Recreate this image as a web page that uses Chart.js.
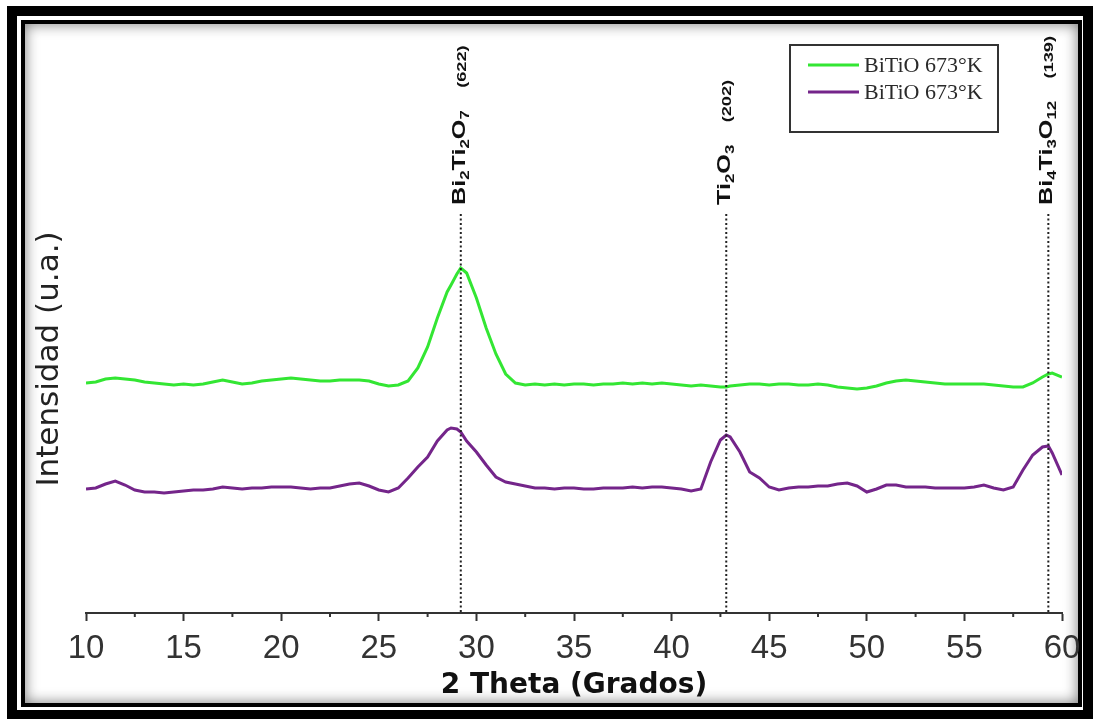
<!DOCTYPE html>
<html>
<head>
<meta charset="utf-8">
<title>BiTiO DRX</title>
<script src="https://cdn.jsdelivr.net/npm/chart.js@4.4.1/dist/chart.umd.min.js"></script>
<style>
  html, body { margin: 0; padding: 0; background: #fff; }
  canvas { display: block; }
</style>
</head>
<body>
<canvas id="drx" width="1094" height="719"></canvas>
<script>
// 2θ positions (degrees)
const twoTheta = [10,10.5,11,11.5,12,12.5,13,13.5,14,14.5,15,15.5,16,16.5,17,17.5,18,18.5,19,19.5,
  20,20.5,21,21.5,22,22.5,23,23.5,24,24.5,25,25.5,26,26.5,27,27.5,28,28.5,28.7,29,29.2,29.5,
  30,30.5,31,31.5,32,32.5,33,33.5,34,34.5,35,35.5,36,36.5,37,37.5,38,38.5,39,39.5,
  40,40.5,41,41.5,42,42.5,42.8,43,43.5,44,44.5,45,45.5,46,46.5,47,47.5,48,48.5,49,49.5,
  50,50.5,51,51.5,52,52.5,53,53.5,54,54.5,55,55.5,56,56.5,57,57.5,58,58.5,59,59.3,59.5,60];

// Intensity (a.u.), upper pattern
const intensityGreen = [230,231,234,235,234,233,231,230,229,228,229,228,229,231,233,231,229,230,232,233,
  234,235,234,233,232,232,233,233,233,232,229,227,228,232,245,266,295,321,328,339,345,340,
  315,285,259,239,230,228,229,228,229,228,229,229,228,229,229,230,229,230,229,230,
  229,228,227,228,227,226,226,227,228,229,229,228,229,229,228,228,229,228,226,225,224,
  225,227,230,232,233,232,231,230,229,229,229,229,229,228,227,226,226,230,236,239,240,236];

// Intensity (a.u.), lower pattern
const intensityPurple = [124,125,129,132,128,123,121,121,120,121,122,123,123,124,126,125,124,125,125,126,
  126,126,125,124,125,125,127,129,130,127,123,121,125,135,146,156,172,183,185,184,181,172,
  161,148,136,131,129,127,125,125,124,125,125,124,124,125,125,125,126,125,126,126,
  125,124,122,124,151,173,178,176,161,141,135,126,123,125,126,126,127,127,129,130,127,
  121,124,128,128,126,126,126,125,125,125,125,126,128,125,123,126,143,158,166,167,160,138];

const seriesLabels = ['BiTiO 673°K', 'BiTiO 673°K'];

// Indexed reflections
const peakAngles = [29.2, 42.8, 59.3];
const peakPhases = ['Bi_2Ti_2O_7', 'Ti_2O_3', 'Bi_4Ti_3O_12'];
const peakPlanes = ['(622)', '(202)', '(139)'];

const xTicks = [10, 15, 20, 25, 30, 35, 40, 45, 50, 55, 60];

const toPoints = ys => twoTheta.map((t, i) => ({ x: t, y: ys[i] }));

// Double black frame with a soft inner shadow
const framePlugin = {
  id: 'frame',
  beforeDraw(chart) {
    const ctx = chart.ctx;
    const W = chart.width, H = chart.height;
    ctx.save();
    ctx.fillStyle = '#fff';
    ctx.fillRect(0, 0, W, H);
    // inner shadow
    ctx.save();
    ctx.beginPath();
    ctx.rect(25, 24, 1053, 679);
    ctx.clip();
    ctx.shadowColor = 'rgba(0,0,0,0.55)';
    ctx.shadowBlur = 14;
    ctx.strokeStyle = '#000';
    ctx.lineWidth = 12;
    ctx.strokeRect(19, 18, 1065, 691);
    ctx.restore();
    ctx.strokeStyle = '#000';
    ctx.lineWidth = 10;
    ctx.strokeRect(12, 11, 1076, 704);
    ctx.lineWidth = 4;
    ctx.strokeRect(23, 22, 1057, 683);
    ctx.restore();
  }
};

// Minor ticks between the labelled ones
const minorTicksPlugin = {
  id: 'minorTicks',
  afterDraw(chart) {
    const x = chart.scales.x, ctx = chart.ctx;
    const y0 = chart.chartArea.bottom;
    ctx.save();
    ctx.strokeStyle = '#333';
    ctx.lineWidth = 2;
    for (let i = 0; i < xTicks.length - 1; i++) {
      const px = x.getPixelForValue((xTicks[i] + xTicks[i + 1]) / 2);
      ctx.beginPath();
      ctx.moveTo(px, y0);
      ctx.lineTo(px, y0 + 4);
      ctx.stroke();
    }
    ctx.restore();
  }
};

// Dotted markers with rotated phase / plane labels
function drawFormula(ctx, text, x0) {
  const parts = text.split(/_(\d+)/);
  let x = x0;
  parts.forEach((p, i) => {
    if (!p) return;
    if (i % 2 === 1) {
      ctx.font = 'bold 12px "Liberation Sans", Arial, sans-serif';
      ctx.fillText(p, x, 4);
    } else {
      ctx.font = 'bold 18px "Liberation Sans", Arial, sans-serif';
      ctx.fillText(p, x, 0);
    }
    x += ctx.measureText(p).width;
  });
  return x;
}

const peakPlugin = {
  id: 'peaks',
  afterDatasetsDraw(chart) {
    const ctx = chart.ctx;
    const xs = chart.scales.x;
    const yBottom = chart.chartArea.bottom;
    ctx.save();
    peakAngles.forEach((ang, i) => {
      const px = xs.getPixelForValue(ang);
      ctx.save();
      ctx.strokeStyle = '#222';
      ctx.lineWidth = 2;
      ctx.setLineDash([2, 2.5]);
      ctx.beginPath();
      ctx.moveTo(px, 214);
      ctx.lineTo(px, yBottom);
      ctx.stroke();
      ctx.restore();

      ctx.save();
      ctx.translate(px + 4, 205);
      ctx.rotate(-Math.PI / 2);
      ctx.scale(1.4, 1);
      ctx.fillStyle = '#111';
      ctx.textBaseline = 'alphabetic';
      ctx.textAlign = 'left';
      const end = drawFormula(ctx, peakPhases[i], 0);
      ctx.font = 'bold 13px "Liberation Sans", Arial, sans-serif';
      ctx.fillText(peakPlanes[i], end + 16, 1);
      ctx.restore();
    });
    ctx.restore();
  }
};

// Boxed legend in the upper right corner
const boxLegendPlugin = {
  id: 'boxLegend',
  afterDraw(chart) {
    const ctx = chart.ctx;
    ctx.save();
    ctx.strokeStyle = '#333';
    ctx.lineWidth = 2;
    ctx.strokeRect(790, 45, 208, 87);
    chart.data.datasets.forEach((ds, i) => {
      const y = 65 + i * 27;
      ctx.strokeStyle = ds.borderColor;
      ctx.lineWidth = 3;
      ctx.beginPath();
      ctx.moveTo(808, y);
      ctx.lineTo(859, y);
      ctx.stroke();
      ctx.fillStyle = '#2a2a2a';
      ctx.font = '22px "Liberation Serif", "Times New Roman", serif';
      ctx.textBaseline = 'middle';
      ctx.fillText(ds.label, 864, y + 1);
    });
    ctx.restore();
  }
};

new Chart(document.getElementById('drx'), {
  type: 'line',
  data: {
    datasets: [
      {
        label: seriesLabels[0],
        data: toPoints(intensityGreen),
        borderColor: '#33e633',
        borderWidth: 3,
        pointRadius: 0,
        tension: 0
      },
      {
        label: seriesLabels[1],
        data: toPoints(intensityPurple),
        borderColor: '#74258a',
        borderWidth: 3,
        pointRadius: 0,
        tension: 0
      }
    ]
  },
  options: {
    responsive: false,
    animation: false,
    devicePixelRatio: 1,
    layout: { padding: { top: 105, right: 32, bottom: 0, left: 0 } },
    plugins: { legend: { display: false }, tooltip: { enabled: false } },
    scales: {
      x: {
        type: 'linear',
        min: 10,
        max: 60,
        afterFit(scale) { scale.height = 106; },
        afterBuildTicks(scale) { scale.ticks = xTicks.map(v => ({ value: v })); },
        ticks: {
          font: { family: '"Liberation Sans", Arial, sans-serif', size: 33 },
          color: '#333',
          padding: 8,
          maxRotation: 0,
          autoSkip: false
        },
        grid: { drawOnChartArea: false, drawTicks: true, tickLength: 8, tickWidth: 2, tickColor: '#333' },
        border: { display: true, color: '#333', width: 2 },
        title: {
          display: true,
          text: '2 Theta (Grados)',
          font: { family: '"DejaVu Sans", sans-serif', size: 28, weight: 'bold' },
          color: '#111',
          padding: { top: 0, bottom: 16 }
        }
      },
      y: {
        min: 0,
        max: 508,
        afterFit(scale) { scale.width = 86; },
        ticks: { display: false },
        grid: { display: false },
        border: { display: false },
        title: {
          display: true,
          text: 'Intensidad (u.a.)',
          font: { family: '"DejaVu Sans", sans-serif', size: 31 },
          color: '#222',
          padding: { top: 31, bottom: 0 }
        }
      }
    }
  },
  plugins: [framePlugin, minorTicksPlugin, peakPlugin, boxLegendPlugin]
});
</script>
</body>
</html>
